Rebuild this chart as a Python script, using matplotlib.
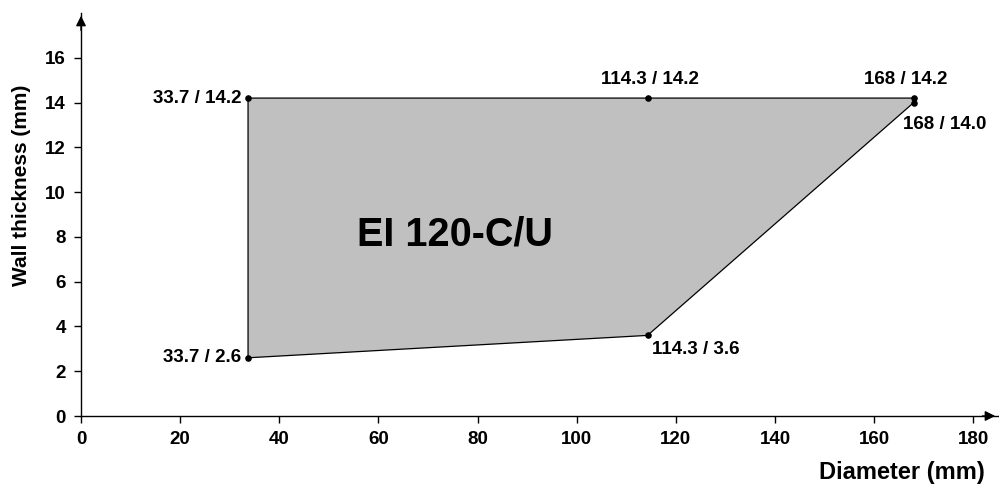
import matplotlib
matplotlib.use("Agg")
import matplotlib.pyplot as plt
from matplotlib.patches import Polygon

plt.rcParams['font.family'] = ['Liberation Sans', 'DejaVu Sans']

# Data
poly_x = [33.7, 33.7, 168.0, 168.0, 114.3]
poly_y = [2.6, 14.2, 14.2, 14.0, 3.6]
point_x = [33.7, 114.3, 168.0, 168.0, 33.7, 114.3]
point_y = [14.2, 14.2, 14.2, 14.0, 2.6, 3.6]
point_labels = ["33.7 / 14.2", "114.3 / 14.2", "168 / 14.2", "168 / 14.0", "33.7 / 2.6", "114.3 / 3.6"]
area_label = "EI 120-C/U"
x_ticks = [0, 20, 40, 60, 80, 100, 120, 140, 160, 180]
y_ticks = [0, 2, 4, 6, 8, 10, 12, 14, 16]

# label placement: (dx, dy in points, ha, va)
label_pos = [(-5, 0, 'right', 'center'),
             (2, 7, 'center', 'bottom'),
             (-6, 7, 'center', 'bottom'),
             (-8, -10, 'left', 'top'),
             (-5, 0, 'right', 'center'),
             (3, -4, 'left', 'top')]

fig = plt.figure(figsize=(9.99, 4.86), dpi=100)
ax = fig.add_axes([81/999, 70/486, (998-81)/999, (416-13)/486])
ax.set_xlim(0, 185)
ax.set_ylim(0, 18)

ax.add_patch(Polygon(list(zip(poly_x, poly_y)), closed=True, facecolor='#c0c0c0',
                     edgecolor='black', linewidth=0.9, zorder=2))
ax.scatter(point_x, point_y, s=14, color='black', zorder=3)

for x, y, t, (dx, dy, ha, va) in zip(point_x, point_y, point_labels, label_pos):
    ax.annotate(t, (x, y), xytext=(dx, dy), textcoords='offset points',
                ha=ha, va=va, fontsize=13.5, fontweight='bold', zorder=4)

ax.text(75.5, 8.1, area_label, ha='center', va='center', fontsize=28.5, fontweight='bold')

ax.set_xticks(x_ticks)
ax.set_yticks(y_ticks)
ax.tick_params(axis='both', labelsize=13.5, length=5, width=1, direction='out', pad=6)
for lab in ax.get_xticklabels() + ax.get_yticklabels():
    lab.set_fontweight('bold')

for s in ['top', 'right']:
    ax.spines[s].set_visible(False)
for s in ['left', 'bottom']:
    ax.spines[s].set_linewidth(1)

ax.annotate('', xy=(0, 1.0), xytext=(0, 0.95), xycoords='axes fraction',
            arrowprops=dict(arrowstyle='-|>', color='black', lw=1, mutation_scale=15))
ax.annotate('', xy=(1.0, 0), xytext=(0.98, 0), xycoords='axes fraction',
            arrowprops=dict(arrowstyle='-|>', color='black', lw=1, mutation_scale=15))

fig.text(22/999, 1 - 185/486, "Wall thickness (mm)", rotation=90, ha='center', va='center',
         fontsize=15, fontweight='bold')
fig.text(985/999, 1 - 472/486, "Diameter (mm)", ha='right', va='center',
         fontsize=17, fontweight='bold')

fig.savefig("out.png", dpi=100)
